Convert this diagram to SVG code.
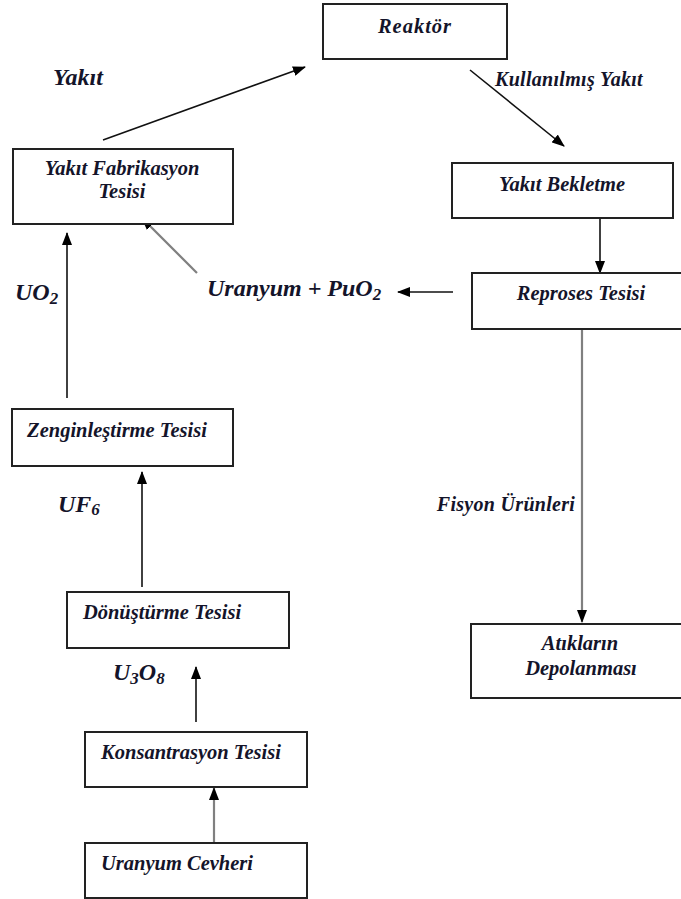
<svg xmlns="http://www.w3.org/2000/svg" width="681" height="899" viewBox="0 0 681 899">
<style>
.box{fill:#fff;stroke:#222;stroke-width:2}
text{font-family:'Liberation Serif','DejaVu Serif',serif;font-weight:bold;font-style:italic;fill:#14142a}
.n{font-size:20.5px;text-anchor:middle}
.big{font-size:24px}
.lbl{font-size:20px;text-anchor:middle;letter-spacing:0.3px}
.chem{font-size:24px}
.e{stroke:#111;stroke-width:1.6;fill:none;marker-end:url(#ah)}
.g{stroke:#808080;stroke-width:2.2;fill:none;marker-end:url(#ah)}
</style>
<defs>
<marker id="ah" markerWidth="13" markerHeight="10" refX="12" refY="5" orient="auto" markerUnits="userSpaceOnUse">
<path d="M0,0 L13,5 L0,10 Z" fill="#000"/>
</marker>
</defs>
<rect width="681" height="899" fill="#fff"/>
<g id="connectors">
<line class="e" x1="103" y1="140" x2="305" y2="67"/>
<line class="e" x1="470" y1="70" x2="564" y2="146"/>
<line class="e" x1="600" y1="219" x2="600" y2="273"/>
<line class="e" x1="453" y1="292" x2="398" y2="292"/>
<line class="g" x1="197" y1="273" x2="142" y2="218"/>
<line class="e" x1="67" y1="398" x2="67" y2="233"/>
<line class="e" x1="142" y1="587" x2="142" y2="472"/>
<line class="e" x1="196" y1="722" x2="196" y2="667"/>
<line class="g" x1="214" y1="843" x2="214" y2="788"/>
<line class="g" x1="582" y1="329" x2="582" y2="622"/>
</g>
<g id="labels">
<text class="big" x="78" y="85" text-anchor="middle">Yakıt</text>
<text class="lbl" x="569" y="86">Kullanılmış Yakıt</text>
<text class="chem" x="207" y="296">Uranyum + PuO<tspan dy="4" font-size="17">2</tspan></text>
<text class="chem" x="15" y="300">UO<tspan dy="4" font-size="17">2</tspan></text>
<text class="chem" x="58" y="512">UF<tspan dy="3" font-size="17">6</tspan></text>
<text class="chem" x="113" y="680">U<tspan dy="4" font-size="17">3</tspan><tspan dy="-4">O</tspan><tspan dy="4" font-size="17">8</tspan></text>
<text class="lbl" x="506" y="511">Fisyon Ürünleri</text>
</g>
<g id="reaktor">
<rect class="box" x="323" y="4" width="184" height="55"/>
<text class="n" x="415" y="33" font-size="24" letter-spacing="1">Reaktör</text>
</g>
<g id="yakit-fabrikasyon">
<rect class="box" x="13" y="149" width="220" height="75"/>
<text class="n" x="122" y="175" font-size="21">Yakıt Fabrikasyon</text>
<text class="n" x="122" y="198" font-size="21">Tesisi</text>
</g>
<g id="yakit-bekletme">
<rect class="box" x="452" y="163" width="221" height="55"/>
<text class="n" x="562" y="191">Yakıt Bekletme</text>
</g>
<g id="reproses">
<rect class="box" x="472" y="273" width="220" height="56"/>
<text class="n" x="581" y="300">Reproses Tesisi</text>
</g>
<g id="zenginlestirme">
<rect class="box" x="12" y="409" width="221" height="57"/>
<text class="n" x="117" y="437">Zenginleştirme Tesisi</text>
</g>
<g id="donusturme">
<rect class="box" x="67" y="592" width="222" height="56"/>
<text class="n" x="162" y="619" font-size="21">Dönüştürme Tesisi</text>
</g>
<g id="konsantrasyon">
<rect class="box" x="85" y="732" width="222" height="55"/>
<text class="n" x="191" y="759" font-size="21">Konsantrasyon Tesisi</text>
</g>
<g id="uranyum-cevheri">
<rect class="box" x="85" y="843" width="222" height="55"/>
<text class="n" x="177" y="870">Uranyum Cevheri</text>
</g>
<g id="atiklarin-depolanmasi">
<rect class="box" x="471" y="624" width="221" height="74"/>
<text class="n" x="580" y="650">Atıkların</text>
<text class="n" x="581" y="675">Depolanması</text>
</g>
</svg>
